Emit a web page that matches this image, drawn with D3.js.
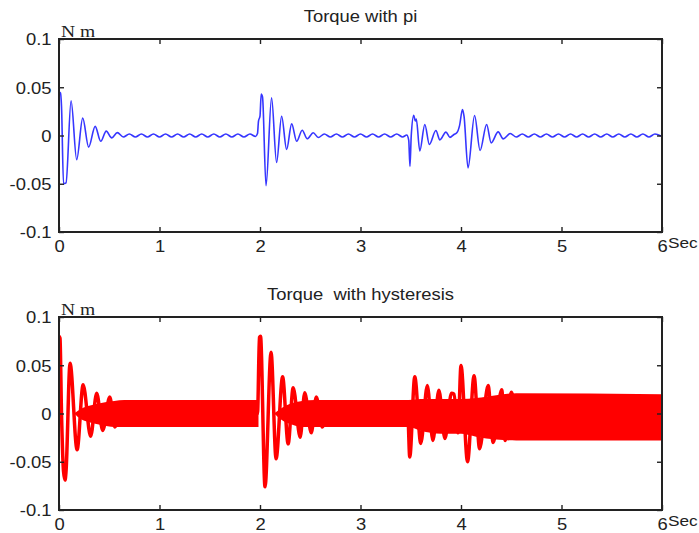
<!DOCTYPE html>
<html>
<head>
<meta charset="utf-8">
<script src="https://cdn.jsdelivr.net/npm/d3@7"></script>
<style>
  body { margin: 0; background: #fff; }
  svg { display: block; }
  text { font-family: "Liberation Sans", Arial, sans-serif; fill: #222; }
</style>
</head>
<body>
<svg id="chart"></svg>
<script>
// Axis ticks
const xTicks = [0, 1, 2, 3, 4, 5, 6];
const xTickLabels = ["0", "1", "2", "3", "4", "5", "6"];
const yTicks = [-0.1, -0.05, 0, 0.05, 0.1];
const yTickLabels = ["-0.1", "-0.05", "0", "0.05", "0.1"];

// Torque with pi: [time (s), torque (N m)]
const piSignal = [
  [0.000, 0.045], [0.015, 0.044], [0.025, 0.030], [0.045, -0.050], [0.070, -0.049],
  [0.120, 0.036], [0.176, -0.025], [0.236, 0.018], [0.295, -0.012], [0.360, 0.0095],
  [0.415, -0.006], [0.470, 0.0045], [0.525, -0.0025], [0.580, 0.003],
  [0.64, -0.0015], [0.70, 0.0015], [0.76, -0.0015], [0.82, 0.0015], [0.88, -0.0015],
  [0.94, 0.0015], [1.00, -0.0015], [1.06, 0.0015], [1.12, -0.0015], [1.18, 0.0015],
  [1.24, -0.0015], [1.30, 0.0015], [1.36, -0.0015], [1.42, 0.0015], [1.48, -0.0015],
  [1.54, 0.0015], [1.60, -0.0015], [1.66, 0.0015], [1.72, -0.0015], [1.78, 0.0015],
  [1.84, -0.0015], [1.90, 0.0015], [1.955, -0.001],
  [1.975, 0.002], [1.985, 0.015], [2.000, 0.020], [2.012, 0.043], [2.025, 0.040],
  [2.060, -0.052], [2.115, 0.039], [2.165, -0.028], [2.215, 0.020], [2.265, -0.0145],
  [2.315, 0.012], [2.365, -0.006], [2.420, 0.0055], [2.470, -0.0034], [2.530, 0.0028],
  [2.580, -0.002],
  [2.64, 0.0015], [2.70, -0.0015], [2.76, 0.0015], [2.82, -0.0015], [2.88, 0.0015],
  [2.94, -0.0015], [3.00, 0.0015], [3.06, -0.0015], [3.12, 0.0015], [3.18, -0.0015],
  [3.24, 0.0015], [3.30, -0.0015], [3.36, 0.0015], [3.42, -0.0015], [3.46, 0.0005],
  [3.480, -0.005], [3.492, -0.032], [3.505, 0.000], [3.530, 0.021], [3.545, 0.015],
  [3.555, 0.017], [3.590, -0.016], [3.640, 0.0114], [3.685, -0.0093], [3.750, 0.0052],
  [3.790, -0.0045], [3.850, 0.0035], [3.890, -0.0019], [3.930, 0.001], [3.960, 0.003],
  [3.985, 0.010], [4.015, 0.027], [4.030, 0.020], [4.070, -0.0335], [4.135, 0.0207],
  [4.190, -0.0155], [4.255, 0.0114], [4.300, -0.0076], [4.370, 0.0038], [4.420, -0.0035],
  [4.490, 0.002],
  [4.55, -0.0015], [4.61, 0.0015], [4.67, -0.0015], [4.73, 0.0015], [4.79, -0.0015],
  [4.85, 0.0015], [4.91, -0.0015], [4.97, 0.0015], [5.03, -0.0015], [5.09, 0.0015],
  [5.15, -0.0015], [5.21, 0.0015], [5.27, -0.0015], [5.33, 0.0015], [5.39, -0.0015],
  [5.45, 0.0015], [5.51, -0.0015], [5.57, 0.0015], [5.63, -0.0015], [5.69, 0.0015],
  [5.75, -0.0015], [5.81, 0.0015], [5.87, -0.0015], [5.93, 0.0015], [5.99, -0.0005]
];

// Torque with hysteresis: slow swing of the bursts [time, torque]
const hystSwing = [
  [0.000, 0.080], [0.010, 0.078], [0.025, 0.000], [0.045, -0.060], [0.060, -0.069],
  [0.070, -0.060], [0.110, 0.052], [0.180, -0.0376], [0.240, 0.0297], [0.315, -0.0235],
  [0.375, 0.021], [0.435, -0.0176], [0.505, 0.017], [0.555, -0.014], [0.620, 0.000],
  [1.975, 0.000], [1.995, 0.079], [2.005, 0.080], [2.050, -0.076], [2.110, 0.0635],
  [2.160, -0.047], [2.225, 0.038], [2.280, -0.0314], [2.330, 0.0266], [2.400, -0.0245],
  [2.445, 0.0214], [2.510, -0.020], [2.560, 0.017], [2.620, -0.014], [2.680, 0.000],
  [3.470, 0.000], [3.490, -0.045], [3.540, 0.038], [3.600, -0.031], [3.665, 0.029],
  [3.720, -0.028], [3.780, 0.024], [3.840, -0.026], [3.905, 0.021], [3.930, 0.020],
  [3.970, -0.020], [4.000, 0.0497], [4.065, -0.050], [4.130, 0.039], [4.185, -0.0365],
  [4.270, 0.029], [4.320, -0.030], [4.405, 0.0245], [4.440, -0.028], [4.500, 0.022],
  [4.560, -0.004], [6.000, -0.004]
];

// Torque with hysteresis: envelope of the fast chatter band [time, top, bottom]
const hystBandA = [
  [0.15, 0.000, 0.000], [0.22, 0.005, -0.006], [0.30, 0.008, -0.009],
  [0.42, 0.011, -0.012], [0.55, 0.013, -0.014], [0.65, 0.014, -0.014],
  [1.985, 0.014, -0.014]
];
const hystBandB = [
  [2.14, 0.000, 0.000], [2.22, 0.006, -0.007], [2.30, 0.010, -0.011],
  [2.42, 0.013, -0.014], [2.55, 0.014, -0.014], [3.48, 0.014, -0.014],
  [3.60, 0.015, -0.018], [3.80, 0.015, -0.021], [4.00, 0.015, -0.021],
  [4.15, 0.016, -0.024], [4.35, 0.019, -0.027], [4.55, 0.021, -0.028],
  [6.00, 0.020, -0.028]
];

const width = 699, height = 533;
const plotLeft = 59, plotRight = 662, plotHeight = 193;
const stretch = "scale(1.15,1)"; // the source image is slightly widened

const svg = d3.select("#chart")
    .attr("width", width)
    .attr("height", height);

const x = d3.scaleLinear().domain([0, 6]).range([plotLeft, plotRight]);

// Build one panel: frame, inward ticks on all sides, labels
function drawPanel(top, title, titleY, id, drawData) {
    const bottom = top + plotHeight;
    const y = d3.scaleLinear().domain([-0.1, 0.1]).range([bottom, top]);
    const g = svg.append("g");

    g.append("clipPath").attr("id", id)
      .append("rect")
        .attr("x", plotLeft).attr("y", top)
        .attr("width", plotRight - plotLeft).attr("height", plotHeight);

    const data = g.append("g").attr("clip-path", `url(#${id})`);
    drawData(data, y);

    // ticks
    const xb = g.append("g").attr("transform", `translate(0,${bottom})`)
        .call(d3.axisBottom(x).tickValues(xTicks).tickSize(-5)
              .tickFormat((d, i) => xTickLabels[i]));
    xb.selectAll("text")
        .attr("y", 20).attr("dy", null)
        .attr("transform", stretch)
        .style("font-size", "16px");

    const yl = g.append("g").attr("transform", `translate(${plotLeft},0)`)
        .call(d3.axisLeft(y).tickValues(yTicks).tickSize(-5)
              .tickFormat((d, i) => yTickLabels[i]));
    yl.selectAll("text")
        .attr("x", -6.5).attr("dy", "0.36em")
        .attr("transform", stretch)
        .style("font-size", "16px");

    g.append("g").attr("transform", `translate(0,${top})`)
        .call(d3.axisTop(x).tickValues(xTicks).tickSize(-5).tickFormat(""));
    g.append("g").attr("transform", `translate(${plotRight},0)`)
        .call(d3.axisRight(y).tickValues(yTicks).tickSize(-5).tickFormat(""));

    g.selectAll(".domain").remove();
    g.selectAll(".tick line").attr("stroke", "#222").attr("stroke-width", 1.4);

    // frame
    g.append("rect")
        .attr("x", plotLeft).attr("y", top)
        .attr("width", plotRight - plotLeft).attr("height", plotHeight)
        .attr("fill", "none")
        .attr("stroke", "#222")
        .attr("stroke-width", 2);

    // title
    g.append("text")
        .attr("transform", `translate(${(plotLeft + plotRight) / 2},${titleY}) ${stretch}`)
        .attr("text-anchor", "middle")
        .style("font-size", "16px")
        .style("white-space", "pre")
        .text(title);

    // unit labels
    g.append("text")
        .attr("transform", `translate(61,${top - 2}) ${stretch}`)
        .style("font-family", "'Liberation Serif', 'Times New Roman', serif")
        .style("font-size", "17px")
        .text("N m");
    g.append("text")
        .attr("transform", `translate(668,${bottom + 16}) ${stretch}`)
        .style("font-size", "15px")
        .text("Sec");
}

const line = y => d3.line()
    .x(d => x(d[0]))
    .y(d => y(d[1]))
    .curve(d3.curveMonotoneX);

const band = y => d3.area()
    .x(d => x(d[0]))
    .y0(d => y(d[2]))
    .y1(d => y(d[1]))
    .curve(d3.curveMonotoneX);

drawPanel(39, "Torque with pi", 21.5, "clipTop", (g, y) => {
    g.append("path")
        .datum(piSignal)
        .attr("d", line(y))
        .attr("fill", "none")
        .attr("stroke", "#3636ff")
        .attr("stroke-width", 1.6);
});

drawPanel(317, "Torque  with hysteresis", 300, "clipBottom", (g, y) => {
    [hystBandA, hystBandB].forEach(b => {
        g.append("path")
            .datum(b)
            .attr("d", band(y))
            .attr("fill", "#ff0000");
    });
    g.append("path")
        .datum(hystSwing)
        .attr("d", line(y))
        .attr("fill", "none")
        .attr("stroke", "#ff0000")
        .attr("stroke-width", 3.5)
        .attr("stroke-linejoin", "round");
});
</script>
</body>
</html>
